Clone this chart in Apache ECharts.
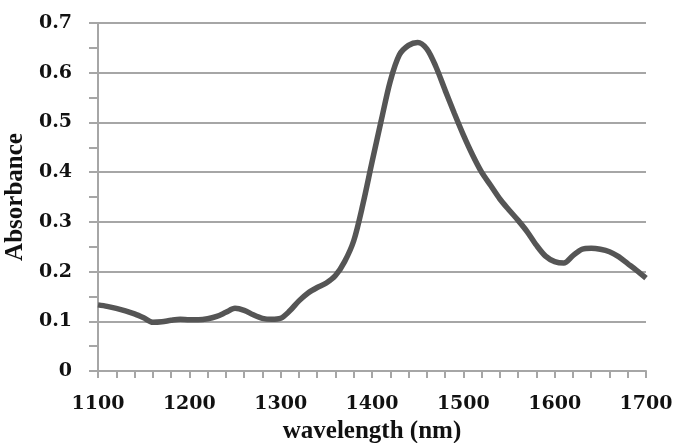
<!DOCTYPE html>
<html>
<head>
<meta charset="utf-8">
<script src="https://cdn.jsdelivr.net/npm/echarts@6/dist/echarts.min.js"></script>
<style>
  html, body { margin: 0; padding: 0; background: #fff; }
  #chart { width: 673px; height: 443px; }
</style>
</head>
<body>
<div id="chart"></div>
<script>
// wavelength (nm) and absorbance
const wavelengths = [
  1100, 1110, 1120, 1130, 1140, 1150, 1160, 1170, 1180, 1190,
  1200, 1210, 1220, 1230, 1240, 1250, 1260, 1270, 1280, 1290,
  1300, 1310, 1320, 1330, 1340, 1350, 1360, 1370, 1380, 1390,
  1400, 1410, 1420, 1430, 1440, 1450, 1460, 1470, 1480, 1490,
  1500, 1510, 1520, 1530, 1540, 1550, 1560, 1570, 1580, 1590,
  1600, 1610, 1620, 1630, 1640, 1650, 1660, 1670, 1680, 1690, 1700
]
const absorbance = [
  0.133, 0.130, 0.126, 0.121, 0.115, 0.107, 0.098, 0.099, 0.102, 0.104,
  0.103, 0.103, 0.105, 0.110, 0.118, 0.126, 0.122, 0.113, 0.106, 0.104,
  0.106, 0.121, 0.141, 0.157, 0.168, 0.177, 0.192, 0.220, 0.262, 0.335,
  0.420, 0.503, 0.583, 0.636, 0.655, 0.661, 0.648, 0.612, 0.565, 0.519,
  0.475, 0.435, 0.400, 0.373, 0.346, 0.324, 0.303, 0.280, 0.253, 0.231,
  0.220, 0.217, 0.232, 0.245, 0.247, 0.245, 0.240, 0.230, 0.216, 0.202, 0.187
]

const chart = echarts.init(document.getElementById('chart'))

const gray = '#a6a6a6'
const tickFont = { fontFamily: 'DejaVu Serif', fontWeight: 'bold', fontSize: 19, color: '#111' }
const nameFont = { fontFamily: 'Liberation Serif', fontWeight: 'bold', fontSize: 25, color: '#111' }

chart.setOption({
  animation: false,
  grid: { left: 98, right: 27, top: 23, bottom: 72, outerBoundsMode: 'none' },
  xAxis: {
    type: 'value',
    min: 1100,
    max: 1700,
    interval: 100,
    name: 'wavelength (nm)',
    nameLocation: 'middle',
    nameGap: 47,
    nameTextStyle: nameFont,
    axisLine: { show: true, lineStyle: { color: gray, width: 2 } },
    axisTick: { show: true, length: 7, lineStyle: { color: gray, width: 2 } },
    minorTick: { show: true, splitNumber: 5, length: 7, lineStyle: { color: gray, width: 2 } },
    splitLine: { show: false },
    axisLabel: Object.assign({ margin: 24, formatter: v => String(v) }, tickFont)
  },
  yAxis: {
    type: 'value',
    min: 0,
    max: 0.7,
    interval: 0.1,
    name: 'Absorbance',
    nameLocation: 'middle',
    nameGap: 62,
    nameTextStyle: nameFont,
    axisLine: { show: true, lineStyle: { color: gray, width: 2 } },
    axisTick: { show: true, length: 9, lineStyle: { color: gray, width: 2 } },
    minorTick: { show: true, splitNumber: 2, length: 9, lineStyle: { color: gray, width: 2 } },
    splitLine: { show: true, lineStyle: { color: gray, width: 2 } },
    axisLabel: Object.assign({ margin: 26, formatter: v => (v === 0 ? '0' : v.toFixed(1)) }, tickFont)
  },
  series: [
    {
      type: 'line',
      data: wavelengths.map((w, i) => [w, absorbance[i]]),
      smooth: 0.3,
      showSymbol: false,
      lineStyle: { color: '#555', width: 5.5 }
    }
  ]
})
</script>
</body>
</html>
